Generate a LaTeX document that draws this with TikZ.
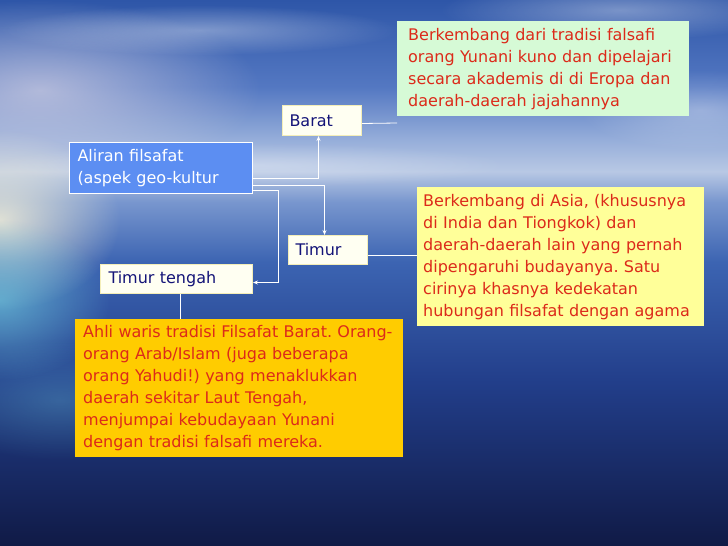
\documentclass[tikz,border=0pt]{standalone}
\usepackage{fontspec}
\setmainfont{DejaVu Sans}
\usetikzlibrary{arrows.meta,calc,fadings}
\definecolor{navytxt}{HTML}{141478}
\definecolor{redtxt}{HTML}{DC2A1A}
\definecolor{aliranfill}{HTML}{5C8EF2}
\definecolor{greenfill}{HTML}{D6FAD6}
\definecolor{yellowfill}{HTML}{FFFF99}
\definecolor{orangefill}{HTML}{FFCC00}
\definecolor{whitebox}{HTML}{FFFFF2}
\definecolor{whiteedge}{HTML}{F4EEB8}
\definecolor{cyanglow}{HTML}{6FC8DC}
\definecolor{warmglow}{HTML}{F4F0D8}
\definecolor{cloudpink}{HTML}{D8D4E4}
\tikzfading[name=softglow, inner color=transparent!0, outer color=transparent!100]
\pgfdeclareverticalshading{skysea}{100bp}{%
  color(0bp)=(rgb,255:red,16;green,26;blue,70);
  color(25bp)=(rgb,255:red,16;green,26;blue,70);
  color(40bp)=(rgb,255:red,34;green,62;blue,138);
  color(51bp)=(rgb,255:red,60;green,100;blue,178);
  color(56.5bp)=(rgb,255:red,120;green,150;blue,206);
  color(59.3bp)=(rgb,255:red,184;green,200;blue,228);
  color(62.2bp)=(rgb,255:red,150;green,174;blue,218);
  color(67bp)=(rgb,255:red,84;green,120;blue,194);
  color(75bp)=(rgb,255:red,46;green,86;blue,168);
  color(100bp)=(rgb,255:red,46;green,86;blue,168)}
\tikzset{
  boxbase/.style={anchor=north west, inner ysep=0pt, align=left,
    font=\fontsize{16}{22}\selectfont},
  labelbox/.style={boxbase, fill=whitebox, draw=whiteedge, line width=1pt, text=navytxt},
  notebox/.style={boxbase, text=redtxt},
  arr/.style={draw=white, line width=0.8pt, -{Stealth[length=5pt,width=4pt]}},
  plainline/.style={draw=white, line width=0.8pt},
  glow/.style={path fading=softglow}
}
\frenchspacing
\begin{document}
\begin{tikzpicture}[x=1pt,y=-1pt]
\useasboundingbox (0,0) rectangle (728,546);
% background sky and sea
\shade[shading=skysea] (0,0) rectangle (728,546);
\fill[cloudpink, glow, opacity=0.7] (40,90) ellipse (220pt and 90pt);
\fill[white, glow, opacity=0.35] (200,30) ellipse (200pt and 25pt);
\fill[white, glow, opacity=0.35] (620,10) ellipse (180pt and 30pt);
\fill[white, glow, opacity=0.3] (700,110) ellipse (120pt and 40pt);
\fill[white, glow, opacity=0.3] (250,165) ellipse (260pt and 22pt);
\fill[warmglow, glow, opacity=0.85] (0,220) ellipse (120pt and 90pt);
\fill[cyanglow, glow, opacity=0.7] (0,300) ellipse (110pt and 80pt);
\fill[cyanglow, glow, opacity=0.3] (60,400) ellipse (140pt and 60pt);

% nodes
\node[boxbase, fill=aliranfill, draw=white, line width=1pt, text=white,
  inner xsep=8pt, minimum width=183pt, minimum height=51pt, text width=167pt]
  (aliran) at (69,142) {Aliran filsafat\\(aspek geo-kultur};
\node[labelbox, inner xsep=7pt, minimum width=79pt, minimum height=30pt, text width=65pt]
  (barat) at (282,105) {Barat};
\node[labelbox, inner xsep=7pt, minimum width=79pt, minimum height=29pt, text width=65pt]
  (timur) at (288,235) {Timur};
\node[labelbox, inner xsep=8pt, minimum width=152pt, minimum height=29pt, text width=136pt]
  (tt) at (100,264) {Timur tengah};
\node[notebox, fill=greenfill, inner xsep=11pt, minimum width=292pt, minimum height=95pt, text width=270pt]
  (green) at (397,21) {Berkembang dari tradisi falsafi\\orang Yunani kuno dan dipelajari\\secara akademis di di Eropa dan\\daerah-daerah jajahannya};
\node[notebox, fill=yellowfill, inner xsep=6pt, minimum width=287pt, minimum height=139pt, text width=275pt]
  (yellow) at (417,187) {Berkembang di Asia, (khususnya\\di India dan Tiongkok) dan\\daerah-daerah lain yang pernah\\dipengaruhi budayanya. Satu\\cirinya khasnya kedekatan\\hubungan filsafat dengan agama};
\node[notebox, fill=orangefill, inner xsep=8pt, minimum width=328pt, minimum height=138pt, text width=312pt]
  (orange) at (75,319) {Ahli waris tradisi Filsafat Barat. Orang-\\orang Arab/Islam (juga beberapa\\orang Yahudi!) yang menaklukkan\\daerah sekitar Laut Tengah,\\menjumpai kebudayaan Yunani\\dengan tradisi falsafi mereka.};

% connectors
\draw[arr] ([yshift=-10.5pt]aliran.east) -| ([xshift=-3.5pt]barat.south);
\draw[arr] ([yshift=-17.5pt]aliran.east) -| ([xshift=-3.5pt]timur.north);
\draw[arr] ([yshift=-22.5pt]aliran.east) -- ++(25,0) |- ([yshift=-3.5pt]tt.east);
\coordinate (gl) at (397,123);
\draw[plainline] ([yshift=-3pt]barat.east) -- (gl);
\coordinate (t1) at ([yshift=-5.5pt]timur.east);
\draw[plainline] (t1) -- (t1 -| yellow.west);
\coordinate (t2) at ([xshift=4pt]tt.south);
\draw[plainline] (t2) -- (t2 |- orange.north);
\end{tikzpicture}
\end{document}
